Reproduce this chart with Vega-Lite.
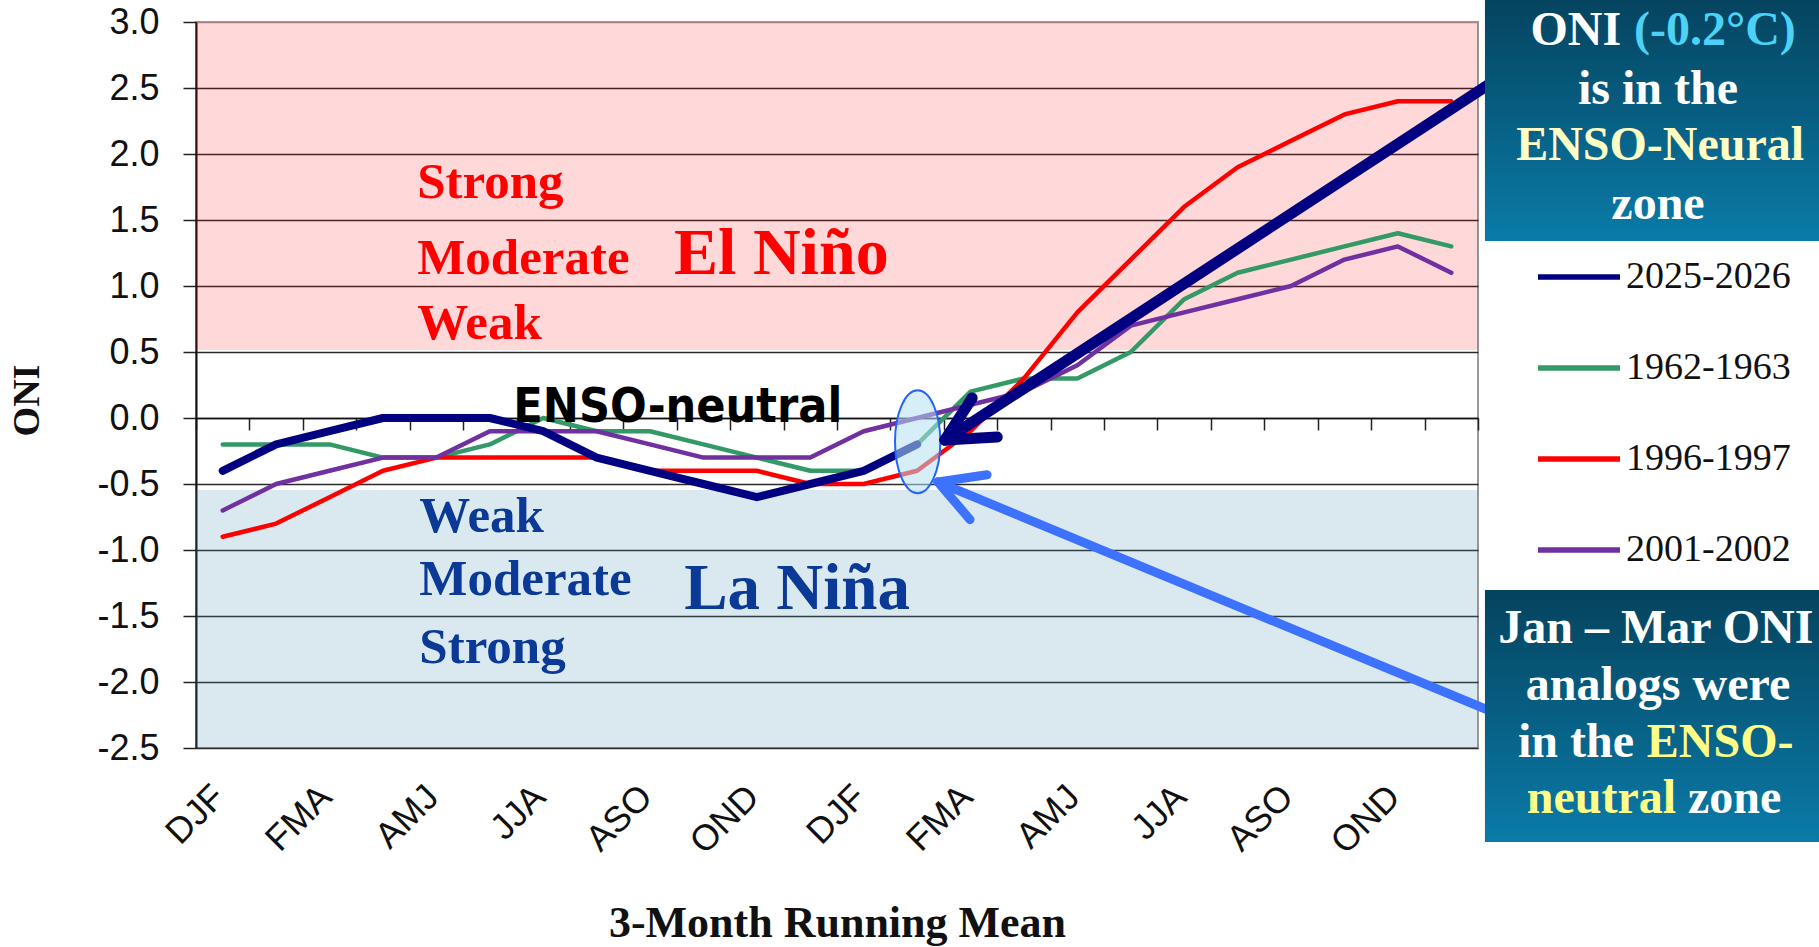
{
  "$schema": "https://vega.github.io/schema/vega-lite/v6.json",
  "width": 1282,
  "height": 726,
  "autosize": {"type": "none"},
  "padding": {"left": 196, "top": 22, "right": 341, "bottom": 199},
  "background": "white",
  "config": {"view": {"stroke": "#9a9a9a", "strokeWidth": 2}},
  "resolve": {"scale": {"x": "independent"}},
  "layer": [
    {
      "layer": [
        {
          "data": {"values": [{"zone": "El Niño", "v": 0.515, "v2": 3.0}]},
          "mark": {"type": "rect", "fill": "#FF0000", "fillOpacity": 0.15},
          "encoding": {
            "y": {"field": "v", "type": "quantitative", "scale": {"domain": [-2.5, 3], "nice": false, "zero": false}},
            "y2": {"field": "v2"}
          }
        },
        {
          "data": {"values": [{"zone": "La Niña", "v": -2.5, "v2": -0.545}]},
          "mark": {"type": "rect", "fill": "#4691AF", "fillOpacity": 0.2},
          "encoding": {
            "y": {"field": "v", "type": "quantitative", "scale": {"domain": [-2.5, 3], "nice": false, "zero": false}},
            "y2": {"field": "v2"}
          }
        },
        {
          "data": {"values": [
            {"series": "2025-2026", "period": "DJF-1", "oni": -0.4},
            {"series": "2025-2026", "period": "JFM-1", "oni": -0.2},
            {"series": "2025-2026", "period": "FMA-1", "oni": -0.1},
            {"series": "2025-2026", "period": "MAM-1", "oni": 0.0},
            {"series": "2025-2026", "period": "AMJ-1", "oni": 0.0},
            {"series": "2025-2026", "period": "MJJ-1", "oni": 0.0},
            {"series": "2025-2026", "period": "JJA-1", "oni": -0.1},
            {"series": "2025-2026", "period": "JAS-1", "oni": -0.3},
            {"series": "2025-2026", "period": "ASO-1", "oni": -0.4},
            {"series": "2025-2026", "period": "SON-1", "oni": -0.5},
            {"series": "2025-2026", "period": "OND-1", "oni": -0.6},
            {"series": "2025-2026", "period": "NDJ-1", "oni": -0.5},
            {"series": "2025-2026", "period": "DJF-2", "oni": -0.4},
            {"series": "2025-2026", "period": "JFM-2", "oni": -0.2},

            {"series": "1962-1963", "period": "DJF-1", "oni": -0.2},
            {"series": "1962-1963", "period": "JFM-1", "oni": -0.2},
            {"series": "1962-1963", "period": "FMA-1", "oni": -0.2},
            {"series": "1962-1963", "period": "MAM-1", "oni": -0.3},
            {"series": "1962-1963", "period": "AMJ-1", "oni": -0.3},
            {"series": "1962-1963", "period": "MJJ-1", "oni": -0.2},
            {"series": "1962-1963", "period": "JJA-1", "oni": 0.0},
            {"series": "1962-1963", "period": "JAS-1", "oni": -0.1},
            {"series": "1962-1963", "period": "ASO-1", "oni": -0.1},
            {"series": "1962-1963", "period": "SON-1", "oni": -0.2},
            {"series": "1962-1963", "period": "OND-1", "oni": -0.3},
            {"series": "1962-1963", "period": "NDJ-1", "oni": -0.4},
            {"series": "1962-1963", "period": "DJF-2", "oni": -0.4},
            {"series": "1962-1963", "period": "JFM-2", "oni": -0.2},
            {"series": "1962-1963", "period": "FMA-2", "oni": 0.2},
            {"series": "1962-1963", "period": "MAM-2", "oni": 0.3},
            {"series": "1962-1963", "period": "AMJ-2", "oni": 0.3},
            {"series": "1962-1963", "period": "MJJ-2", "oni": 0.5},
            {"series": "1962-1963", "period": "JJA-2", "oni": 0.9},
            {"series": "1962-1963", "period": "JAS-2", "oni": 1.1},
            {"series": "1962-1963", "period": "ASO-2", "oni": 1.2},
            {"series": "1962-1963", "period": "SON-2", "oni": 1.3},
            {"series": "1962-1963", "period": "OND-2", "oni": 1.4},
            {"series": "1962-1963", "period": "NDJ-2", "oni": 1.3},

            {"series": "1996-1997", "period": "DJF-1", "oni": -0.9},
            {"series": "1996-1997", "period": "JFM-1", "oni": -0.8},
            {"series": "1996-1997", "period": "FMA-1", "oni": -0.6},
            {"series": "1996-1997", "period": "MAM-1", "oni": -0.4},
            {"series": "1996-1997", "period": "AMJ-1", "oni": -0.3},
            {"series": "1996-1997", "period": "MJJ-1", "oni": -0.3},
            {"series": "1996-1997", "period": "JJA-1", "oni": -0.3},
            {"series": "1996-1997", "period": "JAS-1", "oni": -0.3},
            {"series": "1996-1997", "period": "ASO-1", "oni": -0.4},
            {"series": "1996-1997", "period": "SON-1", "oni": -0.4},
            {"series": "1996-1997", "period": "OND-1", "oni": -0.4},
            {"series": "1996-1997", "period": "NDJ-1", "oni": -0.5},
            {"series": "1996-1997", "period": "DJF-2", "oni": -0.5},
            {"series": "1996-1997", "period": "JFM-2", "oni": -0.4},
            {"series": "1996-1997", "period": "FMA-2", "oni": -0.1},
            {"series": "1996-1997", "period": "MAM-2", "oni": 0.3},
            {"series": "1996-1997", "period": "AMJ-2", "oni": 0.8},
            {"series": "1996-1997", "period": "MJJ-2", "oni": 1.2},
            {"series": "1996-1997", "period": "JJA-2", "oni": 1.6},
            {"series": "1996-1997", "period": "JAS-2", "oni": 1.9},
            {"series": "1996-1997", "period": "ASO-2", "oni": 2.1},
            {"series": "1996-1997", "period": "SON-2", "oni": 2.3},
            {"series": "1996-1997", "period": "OND-2", "oni": 2.4},
            {"series": "1996-1997", "period": "NDJ-2", "oni": 2.4},

            {"series": "2001-2002", "period": "DJF-1", "oni": -0.7},
            {"series": "2001-2002", "period": "JFM-1", "oni": -0.5},
            {"series": "2001-2002", "period": "FMA-1", "oni": -0.4},
            {"series": "2001-2002", "period": "MAM-1", "oni": -0.3},
            {"series": "2001-2002", "period": "AMJ-1", "oni": -0.3},
            {"series": "2001-2002", "period": "MJJ-1", "oni": -0.1},
            {"series": "2001-2002", "period": "JJA-1", "oni": -0.1},
            {"series": "2001-2002", "period": "JAS-1", "oni": -0.1},
            {"series": "2001-2002", "period": "ASO-1", "oni": -0.2},
            {"series": "2001-2002", "period": "SON-1", "oni": -0.3},
            {"series": "2001-2002", "period": "OND-1", "oni": -0.3},
            {"series": "2001-2002", "period": "NDJ-1", "oni": -0.3},
            {"series": "2001-2002", "period": "DJF-2", "oni": -0.1},
            {"series": "2001-2002", "period": "JFM-2", "oni": 0.0},
            {"series": "2001-2002", "period": "FMA-2", "oni": 0.1},
            {"series": "2001-2002", "period": "MAM-2", "oni": 0.2},
            {"series": "2001-2002", "period": "AMJ-2", "oni": 0.4},
            {"series": "2001-2002", "period": "MJJ-2", "oni": 0.7},
            {"series": "2001-2002", "period": "JJA-2", "oni": 0.8},
            {"series": "2001-2002", "period": "JAS-2", "oni": 0.9},
            {"series": "2001-2002", "period": "ASO-2", "oni": 1.0},
            {"series": "2001-2002", "period": "SON-2", "oni": 1.2},
            {"series": "2001-2002", "period": "OND-2", "oni": 1.3},
            {"series": "2001-2002", "period": "NDJ-2", "oni": 1.1}
          ]},
          "encoding": {
            "x": {
              "field": "period", "type": "ordinal",
              "sort": ["DJF-1","JFM-1","FMA-1","MAM-1","AMJ-1","MJJ-1","JJA-1","JAS-1","ASO-1","SON-1","OND-1","NDJ-1","DJF-2","JFM-2","FMA-2","MAM-2","AMJ-2","MJJ-2","JJA-2","JAS-2","ASO-2","SON-2","OND-2","NDJ-2"],
              "scale": {"type": "band", "paddingInner": 0, "paddingOuter": 0},
              "axis": {
                "orient": "bottom", "offset": -330, "tickBand": "extent", "tickSize": 12, "tickColor": "#222", "tickWidth": 1.5,
                "domainColor": "#111", "domainWidth": 1.5, "grid": false,
                "labelAngle": -45, "labelPadding": 349, "labelOffset": -16, "labelFont": "Liberation Sans", "labelFontSize": 36, "labelColor": "#111", "labelOverlap": false,
                "labelExpr": "isString(datum.label) && indexof(['DJF','FMA','AMJ','JJA','ASO','OND'], substring(datum.label,0,3)) >= 0 ? substring(datum.label,0,3) : ''",
                "title": "3-Month Running Mean", "titleFont": "Liberation Serif", "titleFontWeight": "bold", "titleFontSize": 44, "titleColor": "#111",
                "titleY": 518, "titleBaseline": "alphabetic"
              }
            },
            "y": {
              "field": "oni", "type": "quantitative",
              "scale": {"domain": [-2.5, 3], "nice": false, "zero": false},
              "axis": {
                "values": [-2.5, -2, -1.5, -1, -0.5, 0, 0.5, 1, 1.5, 2, 2.5, 3],
                "format": ".1f",
                "labelExpr": "isString(datum.label) ? replace(datum.label, '−', '-') : ''",
                "labelFont": "Liberation Sans", "labelFontSize": 36, "labelColor": "#111", "labelPadding": 24,
                "tickSize": 13, "tickColor": "#222", "tickWidth": 1.5, "domainColor": "#111", "domainWidth": 2,
                "grid": true, "gridWidth": 1.6,
                "gridColor": {"condition": {"test": "datum.value === 3", "value": "#9a9a9a"}, "value": "#2a2a2a"},
                "title": "ONI", "titleFont": "Liberation Serif", "titleFontWeight": "bold", "titleFontSize": 38, "titleColor": "#111", "titlePadding": 50,
                "titleY": 378
              }
            },
            "color": {
              "field": "series", "type": "nominal",
              "scale": {"domain": ["2025-2026", "1962-1963", "1996-1997", "2001-2002"], "range": ["#000080", "#339966", "#FF0000", "#7030A0"]},
              "legend": {
                "orient": "none", "legendX": 1339, "legendY": 211, "title": null, "symbolType": "stroke", "symbolSize": 6724, "symbolStrokeWidth": 5.5,
                "labelFont": "Liberation Serif", "labelFontSize": 38, "labelColor": "#111", "labelLimit": 400, "rowPadding": 28, "labelOffset": 3, "padding": 0
              }
            }
          },
          "layer": [
            {"transform": [{"filter": "datum.series !== '2025-2026'"}], "mark": {"type": "line", "strokeWidth": 4.5, "strokeCap": "round", "strokeJoin": "round"}, "encoding": {}},
            {"transform": [{"filter": "datum.series === '2025-2026'"}], "mark": {"type": "line", "strokeWidth": 8, "strokeCap": "round", "strokeJoin": "round"}, "encoding": {}}
          ]
        }
      ]
    },
    {
      "encoding": {
        "x": {"field": "u", "type": "quantitative", "scale": {"domain": [0, 24], "nice": false, "zero": false}, "axis": null},
        "y": {"field": "v", "type": "quantitative", "scale": {"domain": [-2.5, 3], "nice": false, "zero": false}}
      },
      "layer": [
        {
          "data": {"values": [{"u": 13.51, "v": -0.18}]},
          "mark": {"type": "point", "shape": "M -0.44 0 A 0.44 1 0 1 1 0.44 0 A 0.44 1 0 1 1 -0.44 0 Z", "size": 10609, "filled": true, "fill": "#B5E0F2", "fillOpacity": 0.55, "stroke": "#2563FF", "strokeWidth": 2, "opacity": 1}
        },
        {
          "data": {"values": [
            {"seg": "shaft", "k": 0, "u": 14.02, "v": -0.167},
            {"seg": "shaft", "k": 1, "u": 25.16, "v": 2.78},
            {"seg": "barb1", "k": 0, "u": 14.02, "v": -0.167},
            {"seg": "barb1", "k": 1, "u": 14.53, "v": 0.152},
            {"seg": "barb2", "k": 0, "u": 14.02, "v": -0.167},
            {"seg": "barb2", "k": 1, "u": 15.0, "v": -0.144}
          ]},
          "mark": {"type": "line", "color": "#000080", "strokeWidth": 11, "strokeCap": "round", "strokeJoin": "round"},
          "encoding": {"detail": {"field": "seg"}, "order": {"field": "k"}}
        },
        {
          "data": {"values": [
            {"seg": "shaft", "k": 0, "u": 13.89, "v": -0.485},
            {"seg": "shaft", "k": 1, "u": 24.41, "v": -2.25},
            {"seg": "barb1", "k": 0, "u": 13.89, "v": -0.485},
            {"seg": "barb1", "k": 1, "u": 14.81, "v": -0.43},
            {"seg": "barb2", "k": 0, "u": 13.89, "v": -0.485},
            {"seg": "barb2", "k": 1, "u": 14.49, "v": -0.77}
          ]},
          "mark": {"type": "line", "color": "#3D72FF", "strokeWidth": 9, "strokeCap": "round", "strokeJoin": "round"},
          "encoding": {"detail": {"field": "seg"}, "order": {"field": "k"}}
        },
        {
          "data": {"values": [
            {"box": "current", "u": 24.13, "u2": 30.5, "v": 3.2, "v2": 1.341},
            {"box": "analogs", "u": 24.13, "u2": 30.5, "v": -1.303, "v2": -3.212}
          ]},
          "mark": {"type": "rect", "fill": {"gradient": "linear", "x1": 0, "y1": 0, "x2": 0, "y2": 1, "stops": [{"offset": 0, "color": "#05435E"}, {"offset": 1, "color": "#0A7BA8"}]}},
          "encoding": {"x2": {"field": "u2"}, "y2": {"field": "v2"}}
        },
        {
          "data": {"values": [
            {"t": "Strong", "u": 4.14, "v": 1.667},
            {"t": "Moderate", "u": 4.14, "v": 1.09},
            {"t": "Weak", "u": 4.14, "v": 0.6}
          ]},
          "mark": {"type": "text", "align": "left", "baseline": "alphabetic", "font": "Liberation Serif", "fontWeight": "bold", "fontSize": 51, "color": "#FF0000"},
          "encoding": {"text": {"field": "t"}}
        },
        {
          "data": {"values": [{"t": "El Niño", "u": 8.95, "v": 1.09}]},
          "mark": {"type": "text", "align": "left", "baseline": "alphabetic", "font": "Liberation Serif", "fontWeight": "bold", "fontSize": 66, "color": "#FF0000"},
          "encoding": {"text": {"field": "t"}}
        },
        {
          "data": {"values": [
            {"t": "Weak", "u": 4.18, "v": -0.864},
            {"t": "Moderate", "u": 4.18, "v": -1.341},
            {"t": "Strong", "u": 4.18, "v": -1.856}
          ]},
          "mark": {"type": "text", "align": "left", "baseline": "alphabetic", "font": "Liberation Serif", "fontWeight": "bold", "fontSize": 51, "color": "#0B3A96"},
          "encoding": {"text": {"field": "t"}}
        },
        {
          "data": {"values": [{"t": "La Niña", "u": 9.14, "v": -1.447}]},
          "mark": {"type": "text", "align": "left", "baseline": "alphabetic", "font": "Liberation Serif", "fontWeight": "bold", "fontSize": 65, "color": "#0B3A96"},
          "encoding": {"text": {"field": "t"}}
        },
        {
          "data": {"values": [{"t": "ENSO-neutral", "u": 5.94, "v": -0.03}]},
          "mark": {"type": "text", "align": "left", "baseline": "alphabetic", "font": "DejaVu Sans Condensed, DejaVu Sans", "fontWeight": "bold", "fontSize": 48, "color": "#000000"},
          "encoding": {"text": {"field": "t"}}
        },
        {
          "data": {"values": [
            {"t": "is in the", "u": 27.37, "v": 2.377},
            {"t": "zone", "u": 27.37, "v": 1.507},
            {"t": "Jan – Mar ONI", "u": 27.33, "v": -1.705},
            {"t": "analogs were", "u": 27.37, "v": -2.136}
          ]},
          "mark": {"type": "text", "align": "center", "baseline": "alphabetic", "font": "Liberation Serif", "fontWeight": "bold", "fontSize": 48, "color": "#FFFFFF"},
          "encoding": {"text": {"field": "t"}}
        },
        {
          "data": {"values": [
            {"t": "ONI", "u": 26.68, "v": 2.827},
            {"t": "in the", "u": 26.92, "v": -2.568}
          ]},
          "mark": {"type": "text", "align": "right", "baseline": "alphabetic", "font": "Liberation Serif", "fontWeight": "bold", "fontSize": 48, "color": "#FFFFFF"},
          "encoding": {"text": {"field": "t"}}
        },
        {
          "data": {"values": [{"t": "zone", "u": 27.93, "v": -2.99}]},
          "mark": {"type": "text", "align": "left", "baseline": "alphabetic", "font": "Liberation Serif", "fontWeight": "bold", "fontSize": 48, "color": "#FFFFFF"},
          "encoding": {"text": {"field": "t"}}
        },
        {
          "data": {"values": [{"t": "(-0.2°C)", "u": 26.92, "v": 2.827}]},
          "mark": {"type": "text", "align": "left", "baseline": "alphabetic", "font": "Liberation Serif", "fontWeight": "bold", "fontSize": 48, "color": "#4DD2F7"},
          "encoding": {"text": {"field": "t"}}
        },
        {
          "data": {"values": [{"t": "ENSO-Neural", "u": 27.41, "v": 1.957}]},
          "mark": {"type": "text", "align": "center", "baseline": "alphabetic", "font": "Liberation Serif", "fontWeight": "bold", "fontSize": 48, "color": "#FFFFC4"},
          "encoding": {"text": {"field": "t"}}
        },
        {
          "data": {"values": [{"t": "ENSO-", "u": 27.16, "v": -2.568}]},
          "mark": {"type": "text", "align": "left", "baseline": "alphabetic", "font": "Liberation Serif", "fontWeight": "bold", "fontSize": 48, "color": "#FFFF88"},
          "encoding": {"text": {"field": "t"}}
        },
        {
          "data": {"values": [{"t": "neutral", "u": 27.71, "v": -2.99}]},
          "mark": {"type": "text", "align": "right", "baseline": "alphabetic", "font": "Liberation Serif", "fontWeight": "bold", "fontSize": 48, "color": "#FFFF88"},
          "encoding": {"text": {"field": "t"}}
        }
      ]
    }
  ]
}
